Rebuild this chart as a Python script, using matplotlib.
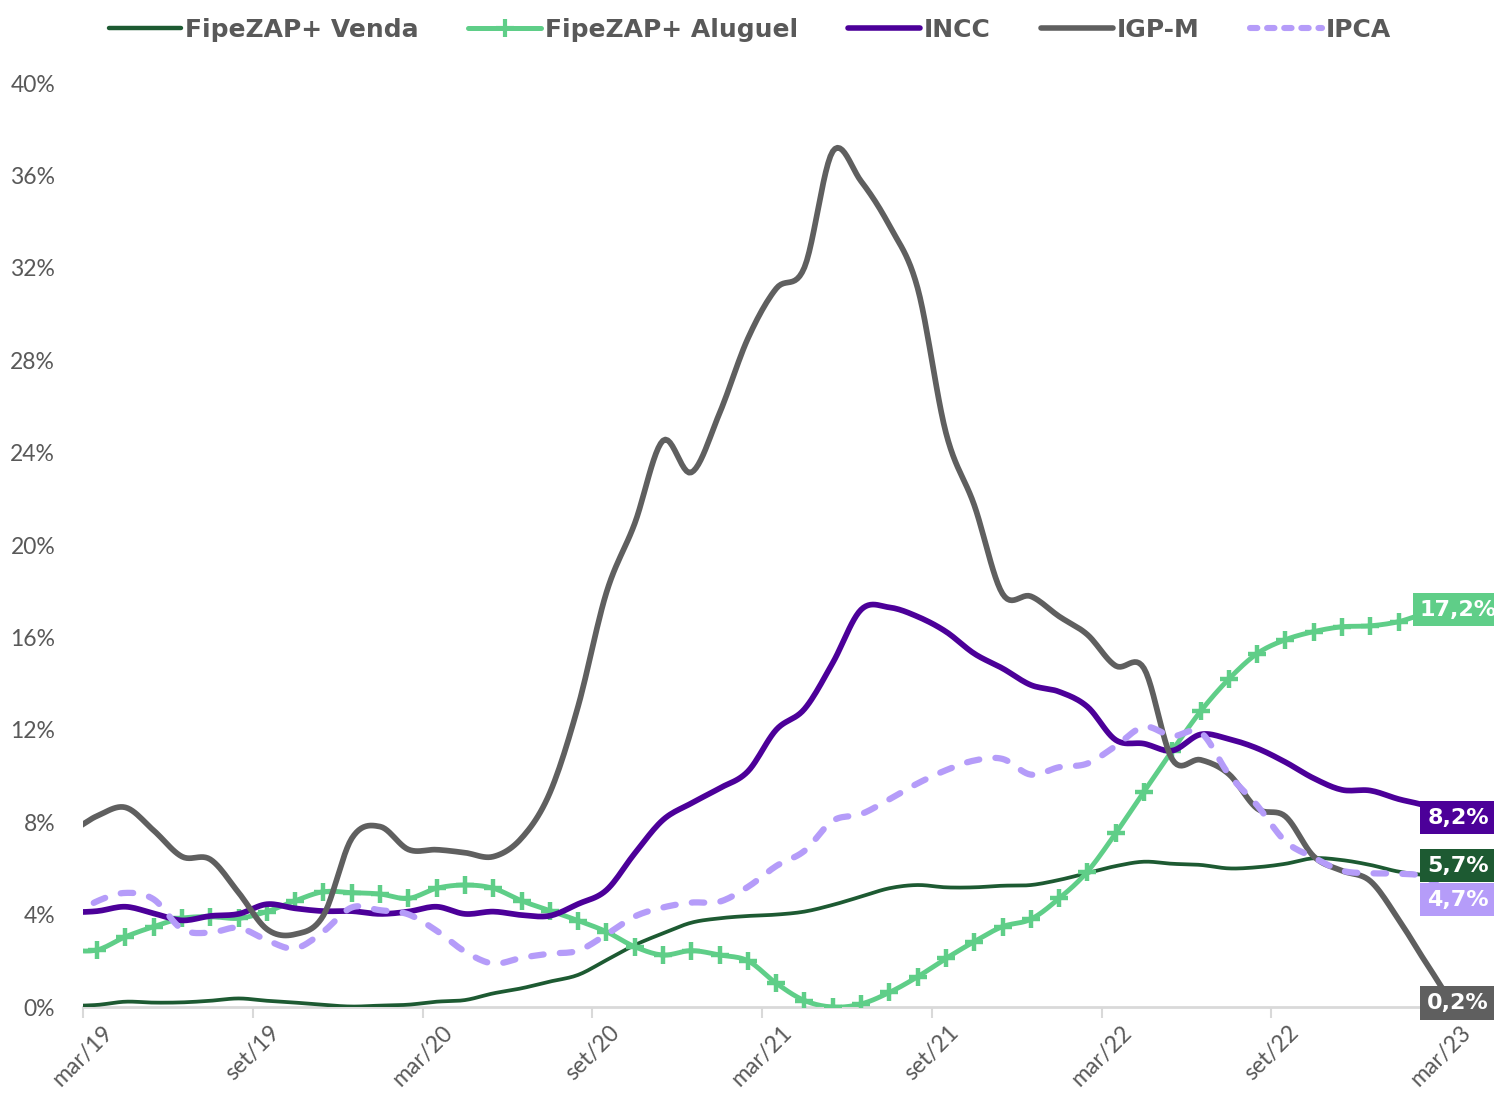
import numpy as np
import matplotlib
matplotlib.use("Agg")
import matplotlib.pyplot as plt
from matplotlib.lines import Line2D

# ---- data (12-month change, %), monthly from fev/19 to mar/23 ----
tick_labels = ['mar/19', 'set/19', 'mar/20', 'set/20', 'mar/21',
               'set/21', 'mar/22', 'set/22', 'mar/23']

venda = [0.05, 0.09, 0.23, 0.19, 0.20, 0.27, 0.37, 0.27, 0.19, 0.09, 0.02,
         0.06, 0.10, 0.23, 0.30, 0.59, 0.81, 1.10, 1.39, 2.03, 2.68, 3.19, 3.65,
         3.84, 3.94, 4.00, 4.13, 4.42, 4.78, 5.14, 5.28, 5.18, 5.18, 5.25, 5.28,
         5.50, 5.80, 6.10, 6.29, 6.20, 6.15, 6.00, 6.05, 6.20, 6.44, 6.36, 6.15,
         5.86, 5.71, 5.70]

aluguel = [2.45, 2.47, 3.04, 3.48, 3.84, 3.91, 3.84, 4.13, 4.60, 4.99, 4.95,
           4.89, 4.70, 5.14, 5.28, 5.14, 4.60, 4.17, 3.74, 3.26, 2.61, 2.25, 2.44,
           2.25, 2.00, 1.03, 0.28, 0.00, 0.13, 0.63, 1.31, 2.10, 2.83, 3.48, 3.80,
           4.70, 5.86, 7.52, 9.32, 11.10, 12.80, 14.20, 15.30, 15.90, 16.25, 16.46, 16.50,
           16.68, 17.05, 17.20]

incc = [4.10, 4.15, 4.34, 4.05, 3.75, 3.94, 4.03, 4.45, 4.27, 4.15, 4.15,
        4.03, 4.13, 4.34, 4.03, 4.13, 3.98, 3.95, 4.46, 5.06, 6.65, 8.10, 8.82,
        9.47, 10.20, 12.00, 12.90, 14.90, 17.20, 17.30, 16.90, 16.25, 15.30, 14.66, 13.94,
        13.65, 13.00, 11.56, 11.40, 11.10, 11.80, 11.60, 11.20, 10.60, 9.90, 9.40, 9.37,
        9.00, 8.70, 8.20]

igpm = [7.60, 8.27, 8.64, 7.64, 6.51, 6.39, 4.95, 3.37, 3.15, 3.97, 7.30,
        7.81, 6.82, 6.81, 6.68, 6.51, 7.31, 9.27, 13.02, 17.94, 20.93, 24.52, 23.14,
        25.71, 28.94, 31.10, 32.02, 37.04, 35.75, 33.83, 31.12, 24.86, 21.73, 17.89, 17.78,
        16.91, 16.12, 14.77, 14.66, 10.72, 10.70, 10.08, 8.59, 8.25, 6.52, 5.90, 5.45,
        3.79, 1.86, 0.17]

ipca = [3.89, 4.58, 4.94, 4.66, 3.37, 3.22, 3.43, 2.89, 2.54, 3.27, 4.31,
        4.19, 4.01, 3.30, 2.40, 1.88, 2.13, 2.31, 2.44, 3.14, 3.92, 4.31, 4.52,
        4.56, 5.20, 6.10, 6.76, 8.06, 8.35, 8.99, 9.68, 10.25, 10.67, 10.74, 10.06,
        10.38, 10.54, 11.30, 12.13, 11.73, 11.89, 10.07, 8.73, 7.17, 6.47, 5.90, 5.79,
        5.77, 5.60, 4.65]

end_labels = ['5,7%', '17,2%', '8,2%', '0,2%', '4,7%']
names = ['FipeZAP+ Venda', 'FipeZAP+ Aluguel', 'INCC', 'IGP-M', 'IPCA']

# ---- styles ----
c_venda = '#1d5a32'
c_alug = '#5fce88'
c_incc = '#4c0099'
c_igpm = '#5f5f5f'
c_ipca = '#b59cf9'
txt_gray = '#595959'

plt.rcParams['font.family'] = ['DejaVu Sans']


def smooth(xs, ys, n=12):
    """Catmull-Rom spline through the points (like a smoothed line)."""
    xs = np.asarray(xs, float)
    ys = np.asarray(ys, float)
    p = np.concatenate([[ys[0]], ys, [ys[-1]]])
    ox, oy = [], []
    t = np.linspace(0, 1, n, endpoint=False)
    for i in range(len(ys) - 1):
        p0, p1, p2, p3 = p[i], p[i + 1], p[i + 2], p[i + 3]
        yy = 0.5 * (2 * p1 + (-p0 + p2) * t + (2 * p0 - 5 * p1 + 4 * p2 - p3) * t ** 2
                    + (-p0 + 3 * p1 - 3 * p2 + p3) * t ** 3)
        xx = xs[i] + (xs[i + 1] - xs[i]) * t
        ox.append(xx)
        oy.append(yy)
    ox.append([xs[-1]])
    oy.append([ys[-1]])
    return np.concatenate(ox), np.concatenate(oy)


n = len(igpm)
# points are placed mid-month; index 1 is mar/19 (tick at 0)
x = np.arange(n) - 0.5

fig = plt.figure(figsize=(14.94, 11), dpi=100)
ax = fig.add_axes([83 / 1494, 1 - 1007 / 1100, (1475 - 83) / 1494, (1007 - 83) / 1100])

sx, sy = smooth(x, venda)
ax.plot(sx, sy, color=c_venda, lw=2.7, solid_capstyle='round', zorder=3)

sx, sy = smooth(x, aluguel)
ax.plot(sx, sy, color=c_alug, lw=3.5, solid_capstyle='round', zorder=4)
ax.plot(x, aluguel, ls='none', marker='+', ms=13, mew=3.2, color=c_alug, zorder=4)

sx, sy = smooth(x, incc)
ax.plot(sx, sy, color=c_incc, lw=4.1, solid_capstyle='round', zorder=5)

sx, sy = smooth(x, igpm)
ax.plot(sx, sy, color=c_igpm, lw=4.1, solid_capstyle='round', zorder=6)

sx, sy = smooth(x, ipca)
ax.plot(sx, sy, color=c_ipca, lw=4.5, dashes=(2.0, 2.6), dash_capstyle='round', zorder=7)

ax.set_xlim(0, 49.2)
ax.set_ylim(0, 40)

ax.set_xticks(np.arange(0, 49, 6))
ax.set_xticklabels(tick_labels, rotation=45, ha='center', fontsize=16.5,
                   color=txt_gray, fontfamily='Lato')
ax.set_yticks(np.arange(0, 41, 4))
ax.set_yticklabels([f'{v}%' for v in range(0, 41, 4)], fontsize=16.5,
                   color=txt_gray, fontfamily='Lato')
ax.tick_params(axis='y', length=0, pad=20)
ax.tick_params(axis='x', length=8, width=1.5, color='#d9d9d9', pad=3)
for s in ['top', 'right', 'left']:
    ax.spines[s].set_visible(False)
ax.spines['bottom'].set_color('#d9d9d9')
ax.spines['bottom'].set_linewidth(2)

# end labels
series = [venda, aluguel, incc, igpm, ipca]
colors = [c_venda, c_alug, c_incc, c_igpm, c_ipca]
offsets = [7, 0, 0, 0, 0]
for vals, col, lab, off in zip(series, colors, end_labels, offsets):
    ax.annotate(lab, xy=(x[-1], vals[-1]), xytext=(2, off), textcoords='offset points',
                ha='center', va='center', color='white', fontsize=16, fontweight='bold',
                bbox=dict(boxstyle='square,pad=0.3', fc=col, ec='none'),
                annotation_clip=False, zorder=10)

# legend
handles = [
    Line2D([], [], color=c_venda, lw=3.2, solid_capstyle='round'),
    Line2D([], [], color=c_alug, lw=3.6, marker='+', ms=13, mew=3, solid_capstyle='round'),
    Line2D([], [], color=c_incc, lw=4, solid_capstyle='round'),
    Line2D([], [], color=c_igpm, lw=4, solid_capstyle='round'),
    Line2D([], [], color=c_ipca, lw=4.4, dashes=(1.2, 1.6), dash_capstyle='round'),
]
leg = fig.legend(handles, names, loc='center', bbox_to_anchor=(750 / 1494, 1 - 30 / 1100),
                 ncol=5, frameon=False, handlelength=2.9, handletextpad=0.15,
                 columnspacing=2.0, prop={'size': 18, 'weight': 'bold'})
for t in leg.get_texts():
    t.set_color(txt_gray)

fig.savefig('out.png', dpi=100)
